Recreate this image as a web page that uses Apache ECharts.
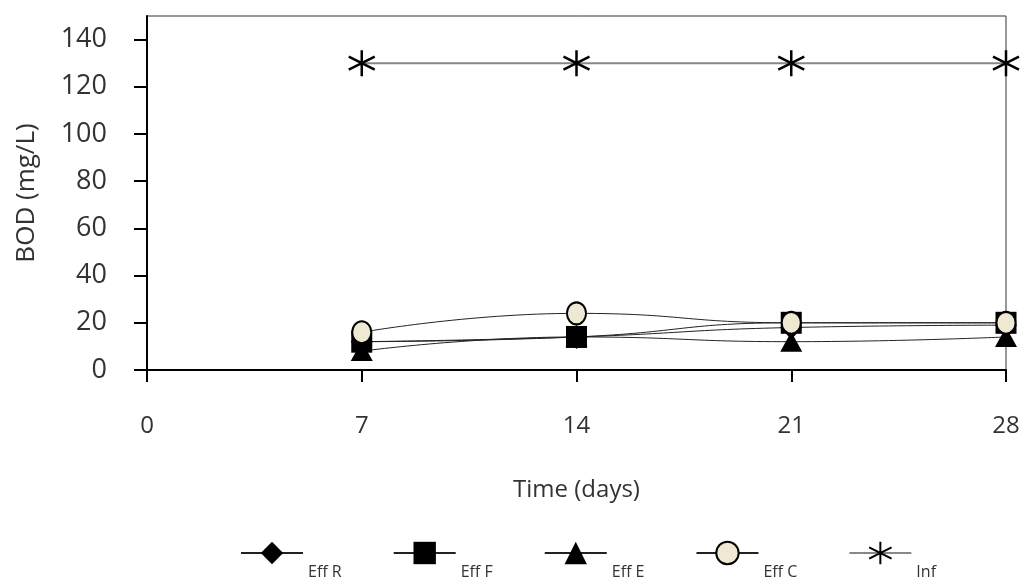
<!DOCTYPE html>
<html>
<head>
<meta charset="utf-8">
<script src="https://cdn.jsdelivr.net/npm/echarts@6/dist/echarts.min.js"></script>
<style>html,body{margin:0;padding:0;background:#fff}#c{width:1026px;height:581px}</style>
</head>
<body>
<div id="c"></div>
<script>
const days = [7, 14, 21, 28];
const effR = [12, 14, 18, 19];
const effF = [12, 14, 20, 20];
const effE = [8, 14, 12, 14];
const effC = [16, 24, 20, 20];
const inf = [130, 130, 130, 130];
const xTicks = [0, 7, 14, 21, 28];
const yTicks = [0, 20, 40, 60, 80, 100, 120, 140];

const pairs = arr => days.map((d, i) => [d, arr[i]]);
const starPath = 'path://M10,0 L10,20 M1.3,5 L18.7,15 M1.3,15 L18.7,5';

const chart = echarts.init(document.getElementById('c'));
const effLine = {color: '#222', width: 1};
chart.setOption({
  animation: false,
  grid: {left: 147, right: 20, top: 16, bottom: 211, show: true, borderColor: '#333', borderWidth: 1},
  xAxis: {
    type: 'value', min: 0, max: 28, interval: 7,
    name: 'Time (days)', nameLocation: 'middle', nameGap: 108,
    nameTextStyle: {fontFamily: 'Open Sans', fontSize: 24, color: '#333'},
    axisLine: {show: true, lineStyle: {color: '#000', width: 2}},
    axisTick: {show: true, inside: false, length: 12, lineStyle: {color: '#000', width: 2}},
    axisLabel: {margin: 44, fontFamily: 'Open Sans', fontSize: 24, color: '#333', customValues: xTicks},
    splitLine: {show: false}
  },
  yAxis: {
    type: 'value', min: 0, max: 150,
    name: 'BOD (mg/L)', nameLocation: 'middle', nameGap: 107, nameRotate: 90,
    nameTextStyle: {fontFamily: 'Open Sans', fontSize: 26, color: '#333'},
    axisLine: {show: true, lineStyle: {color: '#000', width: 2}},
    axisTick: {show: true, length: 13, lineStyle: {color: '#000', width: 2}, customValues: yTicks},
    axisLabel: {margin: 40, fontFamily: 'Open Sans', fontSize: 27, color: '#333', customValues: yTicks},
    splitLine: {show: false}
  },
  legend: {
    bottom: -4, left: 235, itemWidth: 62, itemHeight: 28, itemGap: 51,
    data: ['Eff R', 'Eff F', 'Eff E', 'Eff C', 'Inf'],
    formatter: name => '{a|' + name + '}',
    textStyle: {
      fontFamily: 'Open Sans', fontSize: 16, color: '#333',
      rich: {a: {fontFamily: 'Open Sans', fontSize: 16, color: '#333', padding: [38, 0, 0, 0]}}
    }
  },
  series: [
    {name: 'Eff R', type: 'line', smooth: true, data: pairs(effR), symbol: 'diamond', symbolSize: [22, 24],
     itemStyle: {color: '#000'}, lineStyle: effLine},
    {name: 'Eff E', type: 'line', smooth: true, data: pairs(effE), symbol: 'triangle', symbolSize: [22, 20],
     itemStyle: {color: '#000'}, lineStyle: effLine},
    {name: 'Eff F', type: 'line', smooth: true, data: pairs(effF), symbol: 'rect', symbolSize: [21, 22],
     itemStyle: {color: '#000'}, lineStyle: effLine},
    {name: 'Eff C', type: 'line', smooth: true, data: pairs(effC), symbol: 'circle', symbolSize: [19, 22],
     itemStyle: {color: '#EFE8D2', borderColor: '#000', borderWidth: 2}, lineStyle: effLine},
    {name: 'Inf', type: 'line', data: pairs(inf), symbol: starPath, symbolSize: 26, symbolKeepAspect: false,
     itemStyle: {color: 'rgba(0,0,0,0)', borderColor: '#000', borderWidth: 2.5},
     lineStyle: {color: '#888', width: 2}}
  ]
});
</script>
</body>
</html>
